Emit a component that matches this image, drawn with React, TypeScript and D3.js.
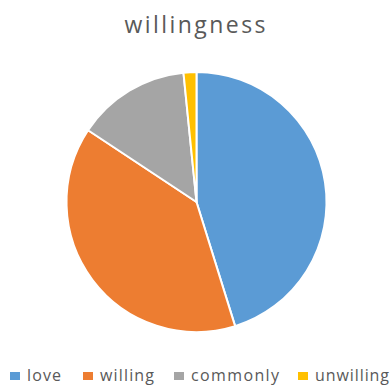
import React from "react";
import * as d3 from "d3";

const categories = ["love", "willing", "commonly", "unwilling"];
const values = [45.2, 39.1, 14.1, 1.6];
const colors = ["#5B9BD5", "#ED7D31", "#A5A5A5", "#FFC000"];
const title = "willingness";

const W = 390;
const H = 385;

export default function App() {
  const cx = 196.5;
  const cy = 202;
  const r = 130;
  const pie = d3.pie<number>().sort(null).value((d) => d)(values);
  const arc = d3.arc<d3.PieArcDatum<number>>().innerRadius(0).outerRadius(r);
  const legendX = [10, 83, 174, 298];
  const legendW = [34, 54, 88, 74];
  return (
    <svg
      width={W}
      height={H}
      style={{ position: "absolute", left: 0, top: 0, background: "#fff" }}
    >
      <rect width={W} height={H} fill="#fff" />
      <text
        x={124.5}
        y={33}
        fontFamily="'Open Sans', Lato, sans-serif"
        fontSize={23}
        fill="#595959"
        textLength={141}
        lengthAdjust="spacing"
      >
        {title}
      </text>
      <g transform={`translate(${cx},${cy})`}>
        {pie.map((p, i) => (
          <path
            key={categories[i]}
            d={arc(p) || ""}
            fill={colors[i]}
            stroke="#fff"
            strokeWidth={2}
            strokeLinejoin="round"
          />
        ))}
      </g>
      <g fontFamily="'Open Sans', Lato, sans-serif" fontSize={16} fill="#595959">
        {categories.map((c, i) => (
          <g key={c} transform={`translate(${legendX[i]},0)`}>
            <rect x={0} y={372} width={10} height={8} fill={colors[i]} />
            <text x={17} y={381} textLength={legendW[i]} lengthAdjust="spacing">
              {c}
            </text>
          </g>
        ))}
      </g>
    </svg>
  );
}
